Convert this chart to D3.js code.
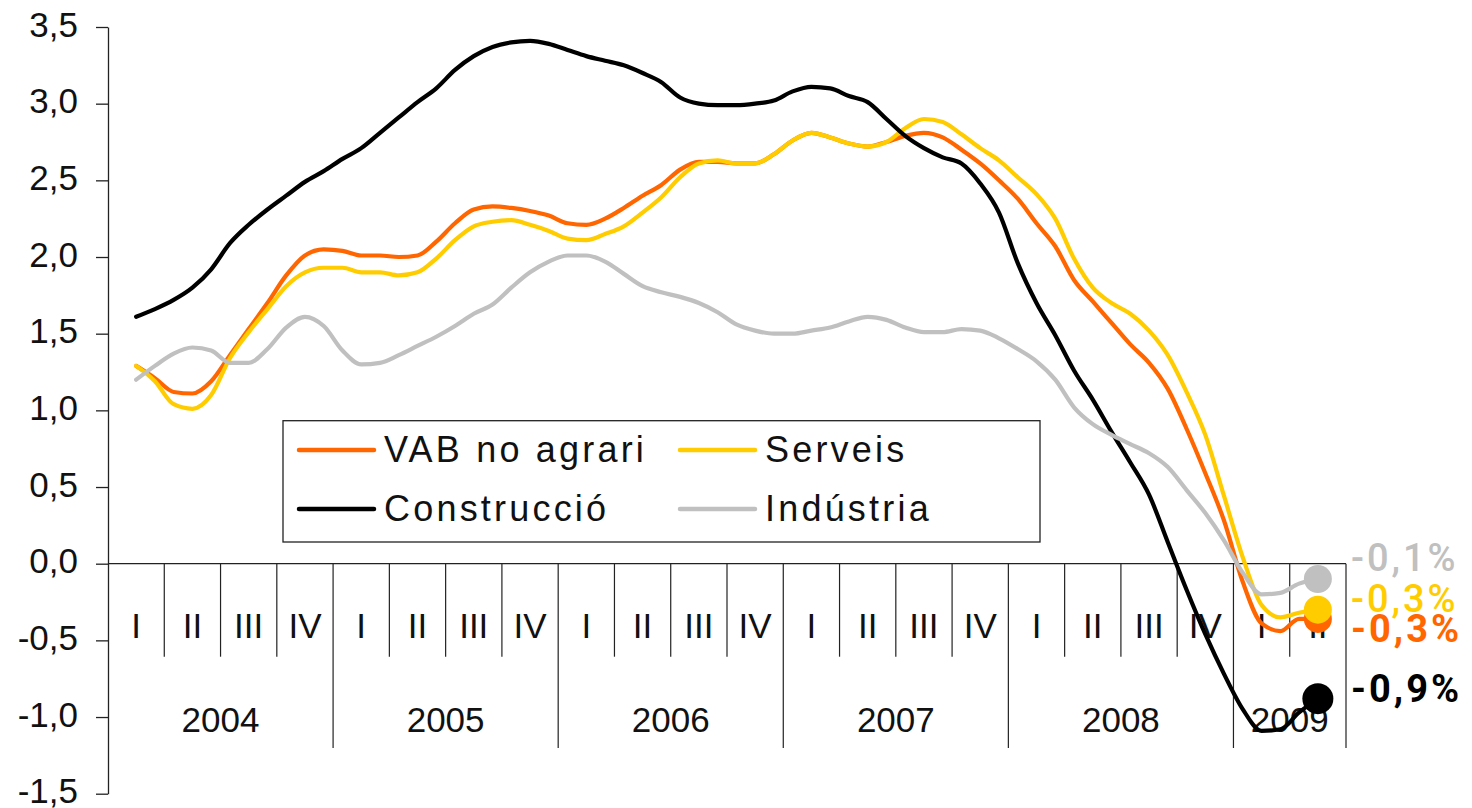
<!DOCTYPE html>
<html><head><meta charset="utf-8">
<script src="https://cdn.jsdelivr.net/npm/d3@7"></script>
<style>
html,body{margin:0;padding:0;background:#fff;}
svg{display:block;}
</style></head><body>
<svg id="chart" width="1472" height="808"></svg>
<script>
// ---------- data ----------
const quarters = ["I","II","III","IV","I","II","III","IV","I","II","III","IV","I","II","III","IV","I","II","III","IV","I","II"];
const years = ["2004","2005","2006","2007","2008","2009"];
const quartersPerYear = [4,4,4,4,4,2];
const yTicks = [-1.5,-1.0,-0.5,0,0.5,1.0,1.5,2.0,2.5,3.0,3.5];
const seriesNames = ["VAB no agrari","Serveis","Construcció","Indústria"];
const vabNoAgrari = [1.29,1.21,1.12,1.11,1.19,1.36,1.53,1.70,1.88,2.01,2.05,2.04,2.01,2.01,2.00,2.01,2.10,2.22,2.31,2.33,2.32,2.30,2.27,2.22,2.21,2.25,2.32,2.40,2.47,2.57,2.62,2.62,2.61,2.61,2.67,2.76,2.81,2.78,2.74,2.72,2.75,2.79,2.81,2.78,2.70,2.61,2.50,2.38,2.22,2.07,1.85,1.71,1.57,1.43,1.31,1.14,0.88,0.59,0.28,-0.12,-0.39,-0.44,-0.36,-0.36];
const serveis = [1.29,1.19,1.04,1.01,1.10,1.34,1.51,1.66,1.81,1.90,1.93,1.93,1.90,1.90,1.88,1.90,1.99,2.11,2.20,2.23,2.24,2.21,2.17,2.12,2.11,2.15,2.20,2.29,2.39,2.52,2.61,2.63,2.61,2.61,2.67,2.76,2.81,2.78,2.74,2.72,2.75,2.84,2.90,2.88,2.80,2.71,2.63,2.52,2.41,2.25,1.99,1.80,1.70,1.63,1.52,1.36,1.12,0.84,0.44,0.04,-0.27,-0.35,-0.32,-0.30];
const construccio = [1.61,1.66,1.72,1.80,1.92,2.09,2.21,2.31,2.40,2.49,2.56,2.64,2.71,2.81,2.91,3.01,3.10,3.22,3.31,3.37,3.40,3.41,3.39,3.35,3.31,3.28,3.25,3.20,3.14,3.04,3.00,2.99,2.99,3.00,3.02,3.08,3.11,3.10,3.05,3.01,2.90,2.79,2.71,2.65,2.61,2.48,2.29,1.96,1.70,1.49,1.26,1.07,0.86,0.66,0.45,0.14,-0.17,-0.46,-0.72,-0.95,-1.09,-1.08,-0.97,-0.88];
const industria = [1.20,1.29,1.37,1.41,1.39,1.31,1.31,1.40,1.54,1.61,1.55,1.39,1.30,1.31,1.36,1.42,1.48,1.55,1.63,1.69,1.80,1.90,1.97,2.01,2.01,1.97,1.89,1.81,1.77,1.74,1.70,1.64,1.56,1.52,1.50,1.50,1.52,1.54,1.58,1.61,1.59,1.54,1.51,1.51,1.53,1.52,1.47,1.40,1.32,1.20,1.02,0.91,0.84,0.78,0.72,0.63,0.48,0.33,0.15,-0.06,-0.20,-0.19,-0.13,-0.10];
const lastValueLabels = ["-0,3%","-0,3%","-0,9%","-0,1%"];

// ---------- styles / layout ----------
const seriesValues = [vabNoAgrari, serveis, construccio, industria];
const colors = ["#FF6600","#FFCC00","#000000","#C0C0C0"];
const markerR = [14,14,15.5,14];
const labelDy = [23,2,3,-8];
const labelWeight = [700,500,700,500];
const baseFont = "'Liberation Sans',Arial,sans-serif";

const svg = d3.select("#chart");
const x = d3.scaleLinear().domain([0, quarters.length]).range([108, 1346]);
const y = d3.scaleLinear().domain([-1.5, 3.5]).range([793.7, 27]);
const fmt = d => d3.format(".1f")(d).replace(".", ",").replace("\u2212","-");

// y axis
const yAxis = svg.append("g").attr("transform", `translate(${x(0)},0)`)
  .call(d3.axisLeft(y).tickValues(yTicks).tickSize(12).tickSizeOuter(0).tickPadding(18).tickFormat(fmt));
yAxis.select(".domain").attr("stroke","#222").attr("stroke-width",1.3);
yAxis.selectAll(".tick line").attr("stroke","#222").attr("stroke-width",1.3);
yAxis.selectAll(".tick text").style("font-size","35px").style("fill","#111")
  .style("font-family",baseFont).attr("dy","0.26em");

// category axis at zero
const y0 = y(0);
const gx = svg.append("g").style("font-family",baseFont).style("fill","#111");
gx.append("line").attr("x1",x(0)).attr("x2",x(quarters.length)).attr("y1",y0).attr("y2",y0)
  .attr("stroke","#222").attr("stroke-width",1.3);
const yearStarts = [];
let acc = 0;
quartersPerYear.forEach(n => { yearStarts.push(acc); acc += n; });
const yearBoundaries = new Set(yearStarts.concat([acc]));
d3.range(1, quarters.length + 1).forEach(k => {
  const isYear = yearBoundaries.has(k);
  gx.append("line").attr("x1",x(k)).attr("x2",x(k)).attr("y1",y0).attr("y2", isYear ? 748 : 656.7)
    .attr("stroke","#222").attr("stroke-width",1.2);
});
gx.selectAll("text.q").data(quarters).join("text").attr("class","q")
  .attr("x",(d,i)=>x(i+0.5)).attr("y",638).attr("text-anchor","middle")
  .style("font-size","35px").text(d=>d);
gx.selectAll("text.yr").data(years).join("text").attr("class","yr")
  .attr("x",(d,i)=>x(yearStarts[i] + quartersPerYear[i]/2)).attr("y",732).attr("text-anchor","middle")
  .style("font-size","35px").text(d=>d);

// lines
const line = d3.line().x((d,i)=>x(0.5 + i/3)).y(d=>y(d)).curve(d3.curveMonotoneX);
seriesValues.forEach((vals, s) => {
  svg.append("path").datum(vals).attr("d", line).attr("fill","none")
    .attr("stroke", colors[s]).attr("stroke-width",4.2)
    .attr("stroke-linejoin","round").attr("stroke-linecap","round");
});
// end markers
seriesValues.forEach((vals, s) => {
  const n = vals.length - 1;
  svg.append("circle").attr("cx", x(0.5 + n/3)).attr("cy", y(vals[n])).attr("r", markerR[s]).attr("fill", colors[s]);
});
// end labels
seriesValues.forEach((vals, s) => {
  const n = vals.length - 1;
  svg.append("text").attr("x", 1351).attr("y", y(vals[n]) + labelDy[s])
    .style("font-family","Roboto,sans-serif").style("font-size","38px").style("font-weight",labelWeight[s])
    .style("letter-spacing","3px").style("fill", colors[s]).text(lastValueLabels[s]);
});

// legend
const lg = svg.append("g");
lg.append("rect").attr("x",283).attr("y",420.7).attr("width",757).attr("height",121.3)
  .attr("fill","#fff").attr("stroke","#222").attr("stroke-width",1.3);
const legendPos = [[299,450],[680,450],[299,509],[680,509]];
seriesNames.forEach((name, s) => {
  const [lx, ly] = legendPos[s];
  lg.append("line").attr("x1",lx).attr("x2",lx+75).attr("y1",ly).attr("y2",ly)
    .attr("stroke",colors[s]).attr("stroke-width",4.5).attr("stroke-linecap","round");
  lg.append("text").attr("x",lx+85).attr("y",ly+12)
    .style("font-family",baseFont).style("font-size","36px").style("fill","#111")
    .style("letter-spacing","3.2px").text(name);
});
</script>
</body></html>
